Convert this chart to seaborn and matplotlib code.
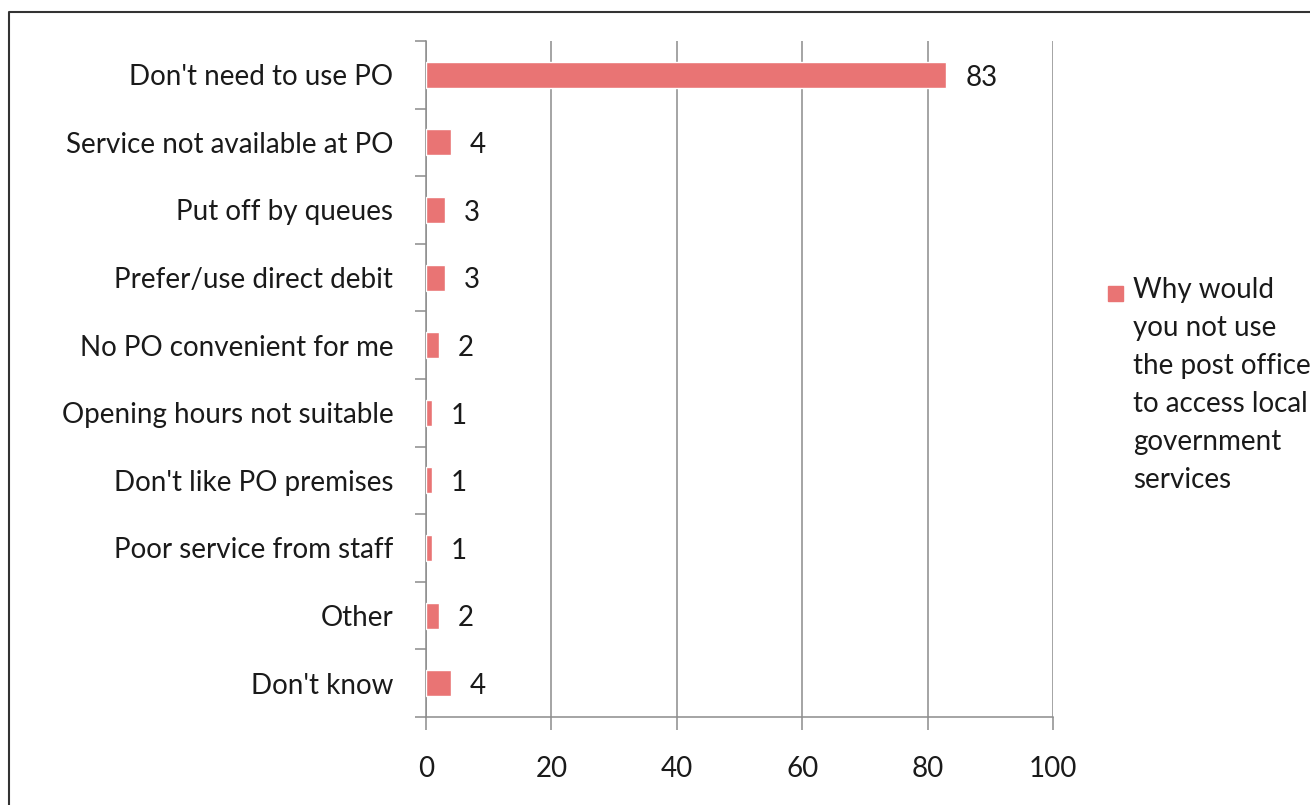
import matplotlib
matplotlib.use("Agg")
import matplotlib.pyplot as plt
from matplotlib.lines import Line2D
import seaborn as sns
import pandas as pd
import numpy as np

# Survey responses
reasons = [
    "Don't need to use PO",
    "Service not available at PO",
    "Put off by queues",
    "Prefer/use direct debit",
    "No PO convenient for me",
    "Opening hours not suitable",
    "Don't like PO premises",
    "Poor service from staff",
    "Other",
    "Don't know",
]
percentages = [83, 4, 3, 3, 2, 1, 1, 1, 2, 4]
series_name = ("Why would\nyou not use\nthe post office\n"
               "to access local\ngovernment\nservices")
x_ticks = [0, 20, 40, 60, 80, 100]

bar_color = "#E97474"
grid_color = "#8C8C8C"
text_color = "#1A1A1A"
fs = 20

sns.set_theme(style="white")
plt.rcParams["font.family"] = ["Lato", "DejaVu Sans"]

df = pd.DataFrame({"reason": reasons, "pct": percentages})

fig = plt.figure(figsize=(13.10, 8.05), dpi=100)
ax = fig.add_axes([426 / 1310, 1 - 717 / 805, (1053 - 426) / 1310, (717 - 41) / 805])

sns.barplot(data=df, x="pct", y="reason", orient="h", color=bar_color,
            width=0.385, saturation=1, ax=ax, zorder=3)

ax.set_xlim(0, 100)
ax.set_ylim(len(reasons) - 0.5, -0.5)
ax.set_xlabel("")
ax.set_ylabel("")

# vertical grid lines
ax.set_xticks(x_ticks)
ax.set_xticklabels([str(t) for t in x_ticks], fontsize=fs, color=text_color)
ax.xaxis.grid(True, color=grid_color, linewidth=1.1, zorder=0)
ax.set_axisbelow(True)
ax.tick_params(axis="x", which="major", direction="out", length=9, width=1.1,
               color=grid_color, pad=19, bottom=True)

# category labels centred, tick marks at band boundaries
ax.set_yticks(range(len(reasons)))
ax.set_yticklabels(reasons, fontsize=fs, color=text_color)
ax.tick_params(axis="y", which="major", length=0, pad=23.5)
ax.set_yticks(np.arange(-0.5, len(reasons), 1.0), minor=True)
ax.tick_params(axis="y", which="minor", direction="out", length=8, width=1.1,
               color=grid_color, left=True)

for side in ["top", "right"]:
    ax.spines[side].set_visible(False)
for side in ["left", "bottom"]:
    ax.spines[side].set_color(grid_color)
    ax.spines[side].set_linewidth(1.1)

# value labels
for i, v in enumerate(percentages):
    ax.text(v + 3, i + 0.04, str(v), va="center", ha="left", fontsize=fs, color=text_color)

# legend
fig.patches.append(plt.Rectangle((1108 / 1310, 1 - 301 / 805), 15 / 1310, 15 / 805,
                                 transform=fig.transFigure, color=bar_color))
fig.text(1133 / 1310, 1 - 277 / 805, series_name, ha="left", va="top",
         fontsize=fs, color=text_color, linespacing=1.57)

# outer frame
fig.lines.append(Line2D([9 / 1310, 9 / 1310, 1.0], [0.0, 1 - 12 / 805, 1 - 12 / 805],
                        transform=fig.transFigure, color="#333333", linewidth=1.5))

fig.savefig("out.png", dpi=100)
